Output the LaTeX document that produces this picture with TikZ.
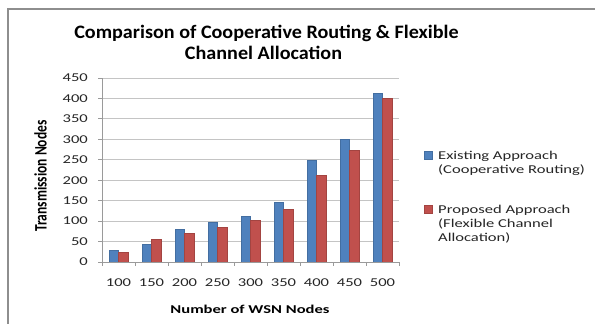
\documentclass[tikz,border=0pt]{standalone}
\usepackage{fontspec}
\usepackage{graphicx}
\setmainfont{Carlito}
\newfontfamily\widefont[FakeStretch=1.38]{Carlito}
\newfontfamily\titlefont[FakeStretch=1.06]{Carlito}
\definecolor{barblue}{HTML}{4F81BD}
\definecolor{barred}{HTML}{C0504D}
\definecolor{gridgray}{HTML}{C4C4C4}
\definecolor{axisgray}{HTML}{9A9A9A}
\definecolor{framegray}{HTML}{8E8E8E}
\definecolor{txt}{HTML}{262626}
\begin{document}
\begin{tikzpicture}[x=1pt,y=-1pt,
  ticklbl/.style={font=\widefont\fontsize{12}{14}\selectfont, text=txt, inner sep=0pt},
  legtext/.style={font=\widefont\fontsize{12}{14}\selectfont, text=txt, inner sep=0pt, anchor=base west},
  axtitle/.style={font=\widefont\bfseries\fontsize{12}{14}\selectfont, text=black, inner sep=0pt},
  gridline/.style={draw=gridgray, line width=0.9pt},
  axisline/.style={draw=axisgray, line width=0.9pt},
  bluebar/.style={fill=barblue, draw=barblue!85!black, line width=0.3pt},
  redbar/.style={fill=barred, draw=barred!85!black, line width=0.3pt}]
\useasboundingbox (0,0) rectangle (595,324);
\fill[white] (0,0) rectangle (595,324);
% frame
\draw[framegray, line width=1.5pt] (8,324) -- (8,9) -- (595,9);
% title
\node[font=\titlefont\bfseries\fontsize{19}{21}\selectfont, anchor=base, inner sep=0pt] (t1) at (266.5,38) {Comparison of Cooperative Routing \& Flexible};
\node[font=\titlefont\bfseries\fontsize{19}{21}\selectfont, anchor=base, inner sep=0pt] (t2) at (263.5,59) {Channel Allocation};
% gridlines and y labels
\foreach \v in {50,100,...,450} {
  \draw[gridline] (102,{262-\v*0.408889}) -- (399,{262-\v*0.408889});
}
\foreach \v in {0,50,...,450} {
  \draw[axisline] (98,{262-\v*0.408889}) -- (102,{262-\v*0.408889});
  \node[ticklbl, anchor=base east] (y\v) at (88,{262-\v*0.408889+3.8}) {\v};
}
% bars
\foreach \i/\b/\r/\lab in {0/29/25/100, 1/44/57/150, 2/80/70/200, 3/97/85/250, 4/111/102/300, 5/146/129/350, 6/249/212/400, 7/300/273/450, 8/414/401/500} {
  \pgfmathsetmacro{\c}{102+33*\i+16.5}
  \draw[bluebar] ({\c-9.7},262) rectangle (\c,{262-\b*0.408889});
  \draw[redbar] (\c,262) rectangle ({\c+9.7},{262-\r*0.408889});
  \node[ticklbl, anchor=base] (x\lab) at (\c,286.8) {\lab};
}
% axes
\draw[axisline] (102,78) -- (102,262);
\draw[axisline] (102,262) -- (399,262);
\foreach \i in {0,...,9} {
  \draw[axisline] ({102+33*\i},262) -- ({102+33*\i},266);
}
% axis titles
\node[axtitle, anchor=base] (xt) at (250,313) {Number of WSN Nodes};
\node[font=\bfseries\fontsize{13.5}{15}\selectfont, rotate=90, inner sep=0pt] (yt) at (40.5,176) {\scalebox{1}[1.3]{Transmission Nodes}};
% legend
\fill[bluebar] (424,151) rectangle (432.5,159.5);
\fill[redbar] (424,205) rectangle (432.5,213.5);
\node[legtext] (l1) at (438,159) {Existing Approach};
\node[legtext] (l2) at (438,173.3) {(Cooperative Routing)};
\node[legtext] (l3) at (438,213) {Proposed Approach};
\node[legtext] (l4) at (438,227.3) {(Flexible Channel};
\node[legtext] (l5) at (438,241.6) {Allocation)};
\end{tikzpicture}
\end{document}
